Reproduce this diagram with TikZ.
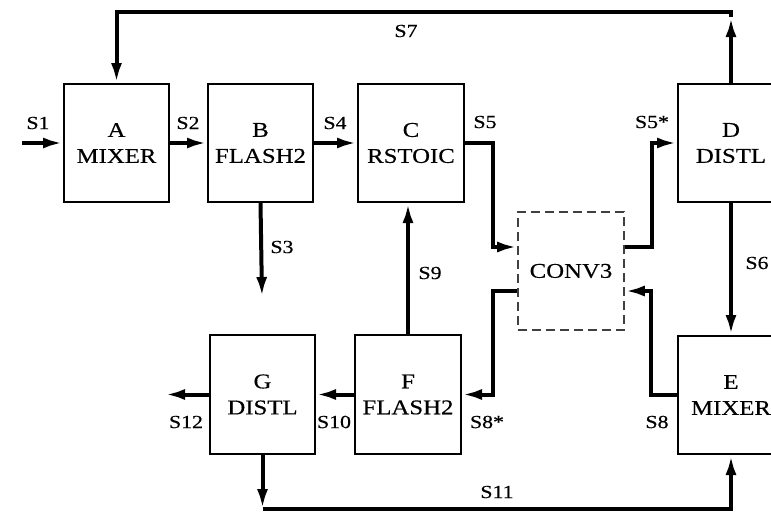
\documentclass[tikz,border=0pt]{standalone}
\usepackage{fontspec}
\setmainfont{Liberation Serif}[FakeStretch=1.18,FakeBold=0.4]
\usetikzlibrary{arrows.meta,calc}
\tikzset{
  unit/.style={draw, line width=2pt, minimum width=105pt, minimum height=118pt, align=center, inner sep=0pt,
    font=\fontsize{21}{26}\selectfont},
  convbox/.style={draw=black!75, line width=1.6pt, dash pattern=on 9pt off 5pt, minimum width=106pt, minimum height=118pt,
    inner sep=0pt, font=\fontsize{21}{26}\selectfont},
  conn/.style={line width=4pt, -{Latex[length=20pt,width=11pt]}},
  lbl/.style={font=\fontsize{18.5}{20}\selectfont, inner sep=0pt}
}
\begin{document}
\begin{tikzpicture}[x=1pt,y=-1pt]
\useasboundingbox (0,0) rectangle (771,512);
\clip (0,0) rectangle (771,512);
% units
\node[unit] (A) at (116.5,143) {A\\MIXER};
\node[unit] (B) at (260.5,143) {B\\FLASH2};
\node[unit, minimum width=106pt] (C) at (411,143) {C\\RSTOIC};
\node[unit, minimum width=106pt] (D) at (731,143) {D\\DISTL};
\node[unit, minimum width=106pt] (E) at (731,395) {E\\MIXER};
\node[unit, minimum width=106pt, minimum height=119pt] (F) at (408,394.5) {F\\FLASH2};
\node[unit, minimum height=119pt] (G) at (262.5,394.5) {G\\DISTL};
\node[convbox] (V) at (571,271) {CONV3};
% free ends
\coordinate (s1in) at (22,143);
\coordinate (s3out) at (262,297);
\coordinate (s12out) at (165,394.5);
\coordinate (s7mid) at (731,17);
\coordinate (s7top) at (731,11.5);
\coordinate (s11mid) at (262.5,509);
% connectors
\draw[conn] (s1in) -- (A.west);
\draw[conn] (A.east) -- (B.west);
\draw[conn] (B.east) -- (C.west);
\draw[conn] (C.east) -- (493,143) |- ([yshift=24pt]V.west);
\draw[conn] ([yshift=24pt]V.east) -- (652,247) |- (D.west);
\draw[conn] (B.south) -- (s3out);
\draw[conn] (F.north) -- (F.north |- C.south);
\draw[conn] (D.south) -- (E.north);
\draw[conn] (E.west) -- (651,395) |- ([yshift=-20pt]V.east);
\draw[conn] ([yshift=-20pt]V.west) -- (493,291) |- (F.east);
\draw[conn] (F.west) -- (G.east);
\draw[conn] (G.west) -- (s12out);
\draw[conn] (D.north) -- (s7mid);
\draw[conn] (s7mid) -- (s7top) -| (A.north);
\draw[conn] (G.south) -- (s11mid);
\draw[conn] (s11mid) -| (E.south);
% labels
\node[lbl] (l1) at (38,123) {S1};
\node[lbl] (l2) at (188,123) {S2};
\node[lbl] (l4) at (335,123) {S4};
\node[lbl] (l5) at (485,122) {S5};
\node[lbl] (l5s) at (652,122) {S5*};
\node[lbl] (l7) at (406,31) {S7};
\node[lbl] (l3) at (282,247) {S3};
\node[lbl] (l9) at (430,273) {S9};
\node[lbl] (l6) at (757,263) {S6};
\node[lbl] (l8s) at (487,422) {S8*};
\node[lbl] (l8) at (657,422) {S8};
\node[lbl] (l10) at (334,422) {S10};
\node[lbl] (l12) at (186,422) {S12};
\node[lbl] (l11) at (497,492) {S11};
\end{tikzpicture}
\end{document}
